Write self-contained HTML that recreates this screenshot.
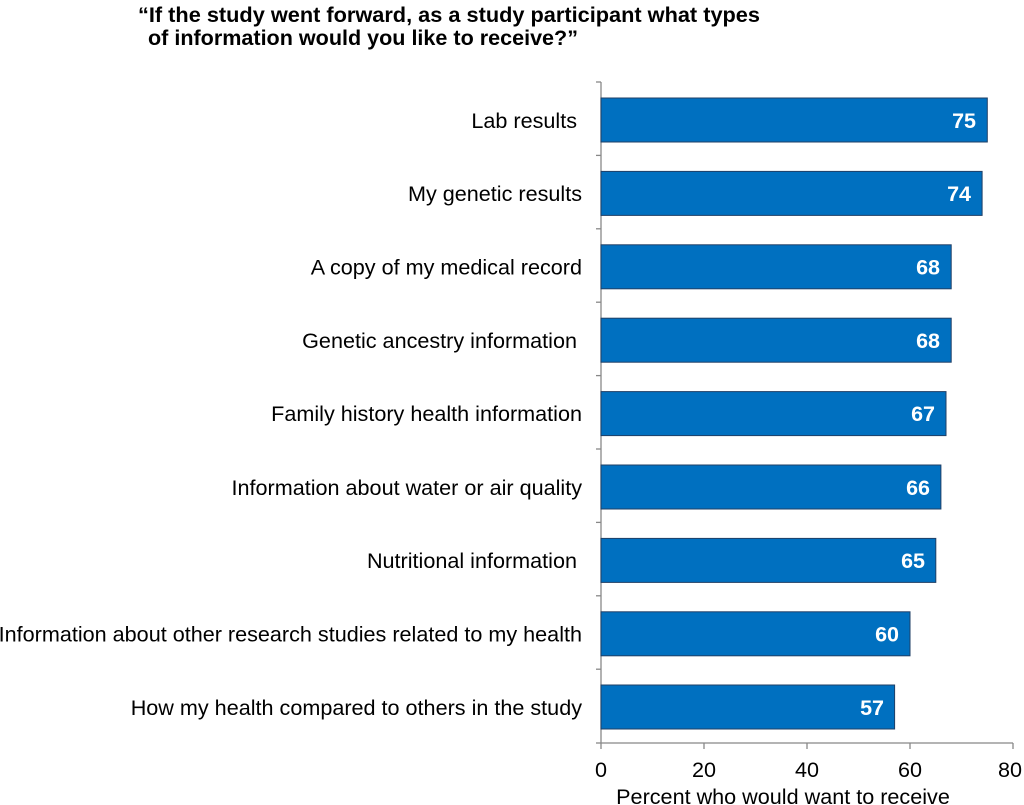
<!DOCTYPE html>
<html><head><meta charset="utf-8"><style>body{margin:0;background:#fff}svg{display:block}</style></head>
<body>
<svg width="1024" height="805" xmlns="http://www.w3.org/2000/svg" font-family="Liberation Sans, Arial, sans-serif">
<text x="138" y="22" font-size="21" font-weight="bold" textLength="622" lengthAdjust="spacingAndGlyphs">“If the study went forward, as a study participant what types</text>
<text x="148" y="45" font-size="21" font-weight="bold" textLength="430" lengthAdjust="spacingAndGlyphs">of information would you like to receive?”</text>
<g stroke="#888" stroke-width="1.3">
<line x1="601" y1="82" x2="601" y2="743"/>
<line x1="601" y1="743" x2="1013" y2="743"/>
<line x1="596" y1="82" x2="601" y2="82"/><line x1="596" y1="155.4" x2="601" y2="155.4"/><line x1="596" y1="228.8" x2="601" y2="228.8"/><line x1="596" y1="302.2" x2="601" y2="302.2"/><line x1="596" y1="375.6" x2="601" y2="375.6"/><line x1="596" y1="449" x2="601" y2="449"/><line x1="596" y1="522.4" x2="601" y2="522.4"/><line x1="596" y1="595.8" x2="601" y2="595.8"/><line x1="596" y1="669.2" x2="601" y2="669.2"/><line x1="596" y1="743" x2="601" y2="743"/>
<line x1="601" y1="743" x2="601" y2="749"/><line x1="704" y1="743" x2="704" y2="749"/><line x1="807" y1="743" x2="807" y2="749"/><line x1="910" y1="743" x2="910" y2="749"/><line x1="1013" y1="743" x2="1013" y2="749"/>
</g>
<g fill="#0070c0" stroke="#1f3f66" stroke-width="1">
<rect x="601" y="98" width="386.3" height="44"/>
<rect x="601" y="171.4" width="381.1" height="44"/>
<rect x="601" y="244.8" width="350.2" height="44"/>
<rect x="601" y="318.2" width="350.2" height="44"/>
<rect x="601" y="391.6" width="345" height="44"/>
<rect x="601" y="465" width="339.9" height="44"/>
<rect x="601" y="538.4" width="334.8" height="44"/>
<rect x="601" y="611.8" width="309" height="44"/>
<rect x="601" y="685" width="293.6" height="44"/>
</g>
<g font-size="21.6" text-anchor="end" fill="#000">
<text x="577" y="128">Lab results</text>
<text x="582" y="201">My genetic results</text>
<text x="582" y="274.5">A copy of my medical record</text>
<text x="577" y="348">Genetic ancestry information</text>
<text x="582" y="421">Family history health information</text>
<text x="582" y="495">Information about water or air quality</text>
<text x="577" y="568">Nutritional information</text>
<text x="582" y="641.5">Information about other research studies related to my health</text>
<text x="582" y="715">How my health compared to others in the study</text>
</g>
<g font-size="21.5" font-weight="bold" text-anchor="end" fill="#fff">
<text x="976" y="128">75</text>
<text x="971" y="201">74</text>
<text x="940" y="274.5">68</text>
<text x="940" y="348">68</text>
<text x="935" y="421">67</text>
<text x="930" y="495">66</text>
<text x="925" y="568">65</text>
<text x="899" y="641.5">60</text>
<text x="884" y="715">57</text>
</g>
<g font-size="21.6" text-anchor="middle" fill="#000">
<text x="601" y="777">0</text><text x="704" y="777">20</text><text x="807" y="777">40</text><text x="910" y="777">60</text><text x="1010" y="777">80</text>
<text x="783" y="804">Percent who would want to receive</text>
</g>
</svg>
</body></html>
